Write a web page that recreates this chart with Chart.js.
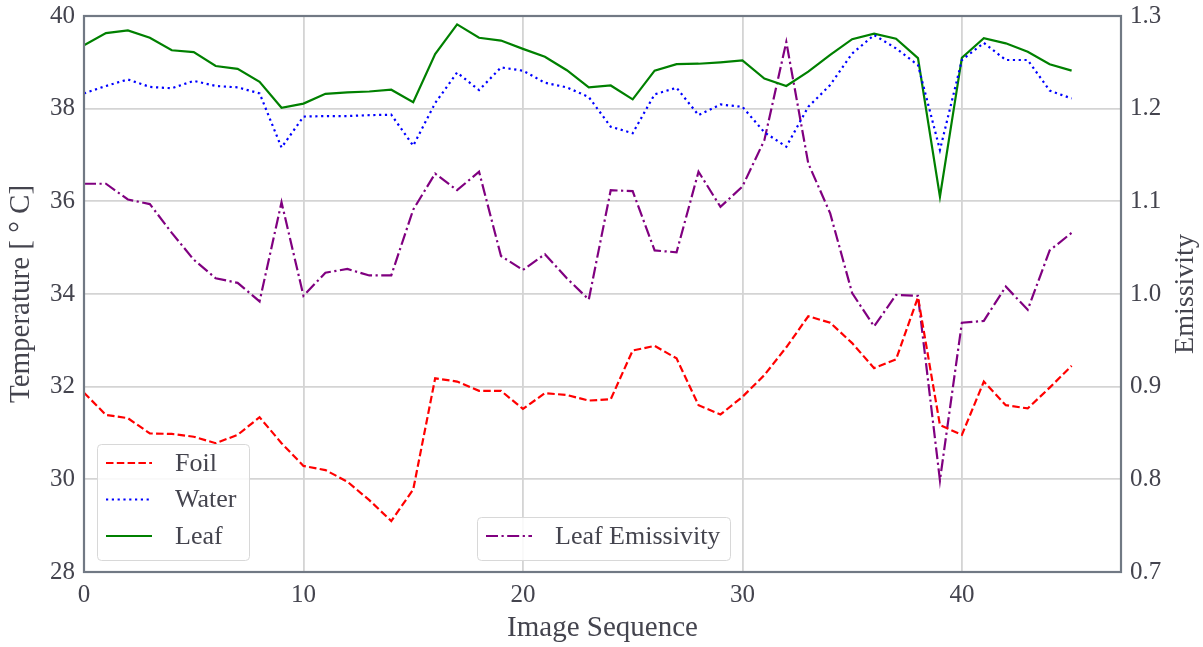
<!DOCTYPE html>
<html>
<head>
<meta charset="utf-8">
<script src="https://cdn.jsdelivr.net/npm/chart.js@4/dist/chart.umd.min.js"></script>
<style>
  body { margin: 0; background: #fff; }
  canvas { display: block; }
</style>
</head>
<body>
<canvas id="chart" width="1203" height="647"></canvas>
<script>
const imageSeq = [0, 1, 2, 3, 4, 5, 6, 7, 8, 9, 10, 11, 12, 13, 14, 15, 16, 17, 18, 19, 20, 21, 22, 23,
  24, 25, 26, 27, 28, 29, 30, 31, 32, 33, 34, 35, 36, 37, 38, 39, 40, 41, 42, 43, 44, 45];

const foil = [31.87, 31.39, 31.32, 30.99, 30.98, 30.92, 30.78, 30.96, 31.34, 30.78, 30.29, 30.20,
  29.95, 29.55, 29.10, 29.78, 32.18, 32.11, 31.91, 31.91, 31.52, 31.86, 31.82, 31.70, 31.73, 32.78,
  32.88, 32.61, 31.60, 31.40, 31.78, 32.25, 32.85, 33.52, 33.38, 32.94, 32.40, 32.59, 33.93, 31.17,
  30.96, 32.11, 31.60, 31.53, 31.98, 32.45];

const water = [38.33, 38.49, 38.63, 38.47, 38.44, 38.60, 38.49, 38.46, 38.33, 37.16, 37.83, 37.84,
  37.84, 37.86, 37.87, 37.20, 38.12, 38.78, 38.40, 38.89, 38.82, 38.56, 38.46, 38.25, 37.61, 37.47,
  38.31, 38.45, 37.86, 38.09, 38.04, 37.49, 37.18, 38.04, 38.51, 39.19, 39.59, 39.30, 38.94, 37.11,
  39.05, 39.42, 39.05, 39.05, 38.39, 38.22];

const leaf = [39.37, 39.63, 39.69, 39.53, 39.26, 39.22, 38.92, 38.86, 38.58, 38.02, 38.11, 38.32,
  38.35, 38.37, 38.41, 38.14, 39.18, 39.82, 39.53, 39.47, 39.29, 39.12, 38.83, 38.46, 38.50, 38.20,
  38.82, 38.96, 38.97, 39.00, 39.04, 38.65, 38.49, 38.80, 39.16, 39.50, 39.62, 39.51, 39.09, 36.10,
  39.10, 39.52, 39.41, 39.23, 38.96, 38.82];

const leafEmissivity = [1.119, 1.119, 1.102, 1.097, 1.066, 1.037, 1.017, 1.012, 0.992, 1.099, 0.998,
  1.023, 1.027, 1.020, 1.020, 1.091, 1.130, 1.112, 1.132, 1.041, 1.026, 1.043, 1.017, 0.994, 1.112,
  1.111, 1.047, 1.045, 1.132, 1.094, 1.116, 1.166, 1.272, 1.141, 1.087, 1.001, 0.965, 0.999, 0.998,
  0.799, 0.969, 0.971, 1.008, 0.983, 1.047, 1.066];

const xTicks = [0, 10, 20, 30, 40];
const tempTicks = [28, 30, 32, 34, 36, 38, 40];
const emisTicks = [0.7, 0.8, 0.9, 1.0, 1.1, 1.2, 1.3];

const FONT = "'Liberation Serif', serif";
const TEXT = '#44444e';
const SPINE = '#717984';
const GRID = '#d4d4d4';

const toPoints = (arr) => imageSeq.map((x, i) => ({ x: x, y: arr[i] }));

const keepTicks = (list) => (scale) => {
  scale.ticks = list.map((v) => ({ value: v }));
};

// fixed axis boxes, no extra padding for the end labels
const fixWidth = (w) => (s) => {
  s.width = w;
  s.paddingTop = 0;
  s.paddingBottom = 0;
};

// frame, the two legend boxes and the right axis title
const extras = {
  id: 'extras',
  afterDraw(chart) {
    const ctx = chart.ctx;
    const a = chart.chartArea;
    const ds = chart.data.datasets;
    ctx.save();
    ctx.strokeStyle = SPINE;
    ctx.lineWidth = 2.2;
    ctx.strokeRect(a.left, a.top, a.right - a.left, a.bottom - a.top);

    const drawLegend = (x, y, w, h, items) => {
      ctx.fillStyle = 'rgba(255,255,255,0.85)';
      ctx.strokeStyle = '#d8d8d8';
      ctx.lineWidth = 1;
      ctx.beginPath();
      ctx.roundRect(x + 0.5, y + 0.5, w, h, 4);
      ctx.fill();
      ctx.stroke();
      items.forEach((it, k) => {
        const d = ds[it];
        const ly = y + 19 + k * 36.5;
        ctx.strokeStyle = d.borderColor;
        ctx.lineWidth = d.borderWidth;
        ctx.setLineDash(d.borderDash || []);
        ctx.beginPath();
        ctx.moveTo(x + 9, ly);
        ctx.lineTo(x + 55, ly);
        ctx.stroke();
        ctx.setLineDash([]);
        ctx.fillStyle = TEXT;
        ctx.font = '26px ' + FONT;
        ctx.textBaseline = 'middle';
        ctx.textAlign = 'left';
        ctx.fillText(d.label, x + 78, ly + 1);
      });
    };
    drawLegend(97, 444, 152, 116, [0, 1, 2]);
    drawLegend(477, 517, 253, 43, [3]);

    ctx.translate(1186, (a.top + a.bottom) / 2);
    ctx.rotate(-Math.PI / 2);
    ctx.fillStyle = TEXT;
    ctx.font = '28px ' + FONT;
    ctx.textAlign = 'center';
    ctx.textBaseline = 'middle';
    ctx.fillText('Emissivity', 0, 0);
    ctx.restore();
  }
};

new Chart(document.getElementById('chart'), {
  type: 'line',
  data: {
    datasets: [
      {
        label: 'Foil', data: toPoints(foil), yAxisID: 'y',
        borderColor: 'rgb(255,0,0)', borderWidth: 2.2, borderDash: [7.5, 3.3]
      },
      {
        label: 'Water', data: toPoints(water), yAxisID: 'y',
        borderColor: 'rgb(0,0,255)', borderWidth: 2.2, borderDash: [2.2, 3.6]
      },
      {
        label: 'Leaf', data: toPoints(leaf), yAxisID: 'y',
        borderColor: 'rgb(0,128,0)', borderWidth: 2.2
      },
      {
        label: 'Leaf Emissivity', data: toPoints(leafEmissivity), yAxisID: 'y1',
        borderColor: 'rgb(128,0,128)', borderWidth: 2.2, borderDash: [12, 3.5, 2.2, 3.5]
      }
    ]
  },
  options: {
    responsive: false,
    animation: false,
    elements: { point: { radius: 0 }, line: { tension: 0 } },
    layout: { padding: { top: 16, left: 0, right: 0, bottom: 0 } },
    plugins: { legend: { display: false }, tooltip: { enabled: false } },
    scales: {
      x: {
        type: 'linear', min: 0, max: 47.25,
        afterBuildTicks: keepTicks(xTicks),
        afterFit: (s) => { s.height = 75; s.paddingLeft = 0; s.paddingRight = 0; },
        grid: { color: GRID, lineWidth: 1.8, drawTicks: false },
        border: { display: false },
        ticks: { color: TEXT, font: { family: FONT, size: 25 }, padding: 8, maxRotation: 0 },
        title: { display: true, text: 'Image Sequence', color: TEXT, font: { family: FONT, size: 29 }, padding: { top: 0, bottom: 1 } }
      },
      y: {
        position: 'left', min: 28, max: 40,
        afterBuildTicks: keepTicks(tempTicks),
        afterFit: fixWidth(84),
        grid: { color: GRID, lineWidth: 1.8, drawTicks: false },
        border: { display: false },
        ticks: { color: TEXT, font: { family: FONT, size: 25 }, padding: 9 },
        title: { display: true, text: 'Temperature [ \u00b0 C]', color: TEXT, font: { family: FONT, size: 29 }, padding: { top: 4, bottom: 0 } }
      },
      y1: {
        position: 'right', min: 0.7, max: 1.3,
        afterBuildTicks: keepTicks(emisTicks),
        afterFit: fixWidth(82),
        grid: { display: false, drawTicks: false },
        border: { display: false },
        ticks: { color: TEXT, font: { family: FONT, size: 25 }, padding: 9, callback: (v) => v.toFixed(1) }
      }
    }
  },
  plugins: [extras]
});
</script>
</body>
</html>
